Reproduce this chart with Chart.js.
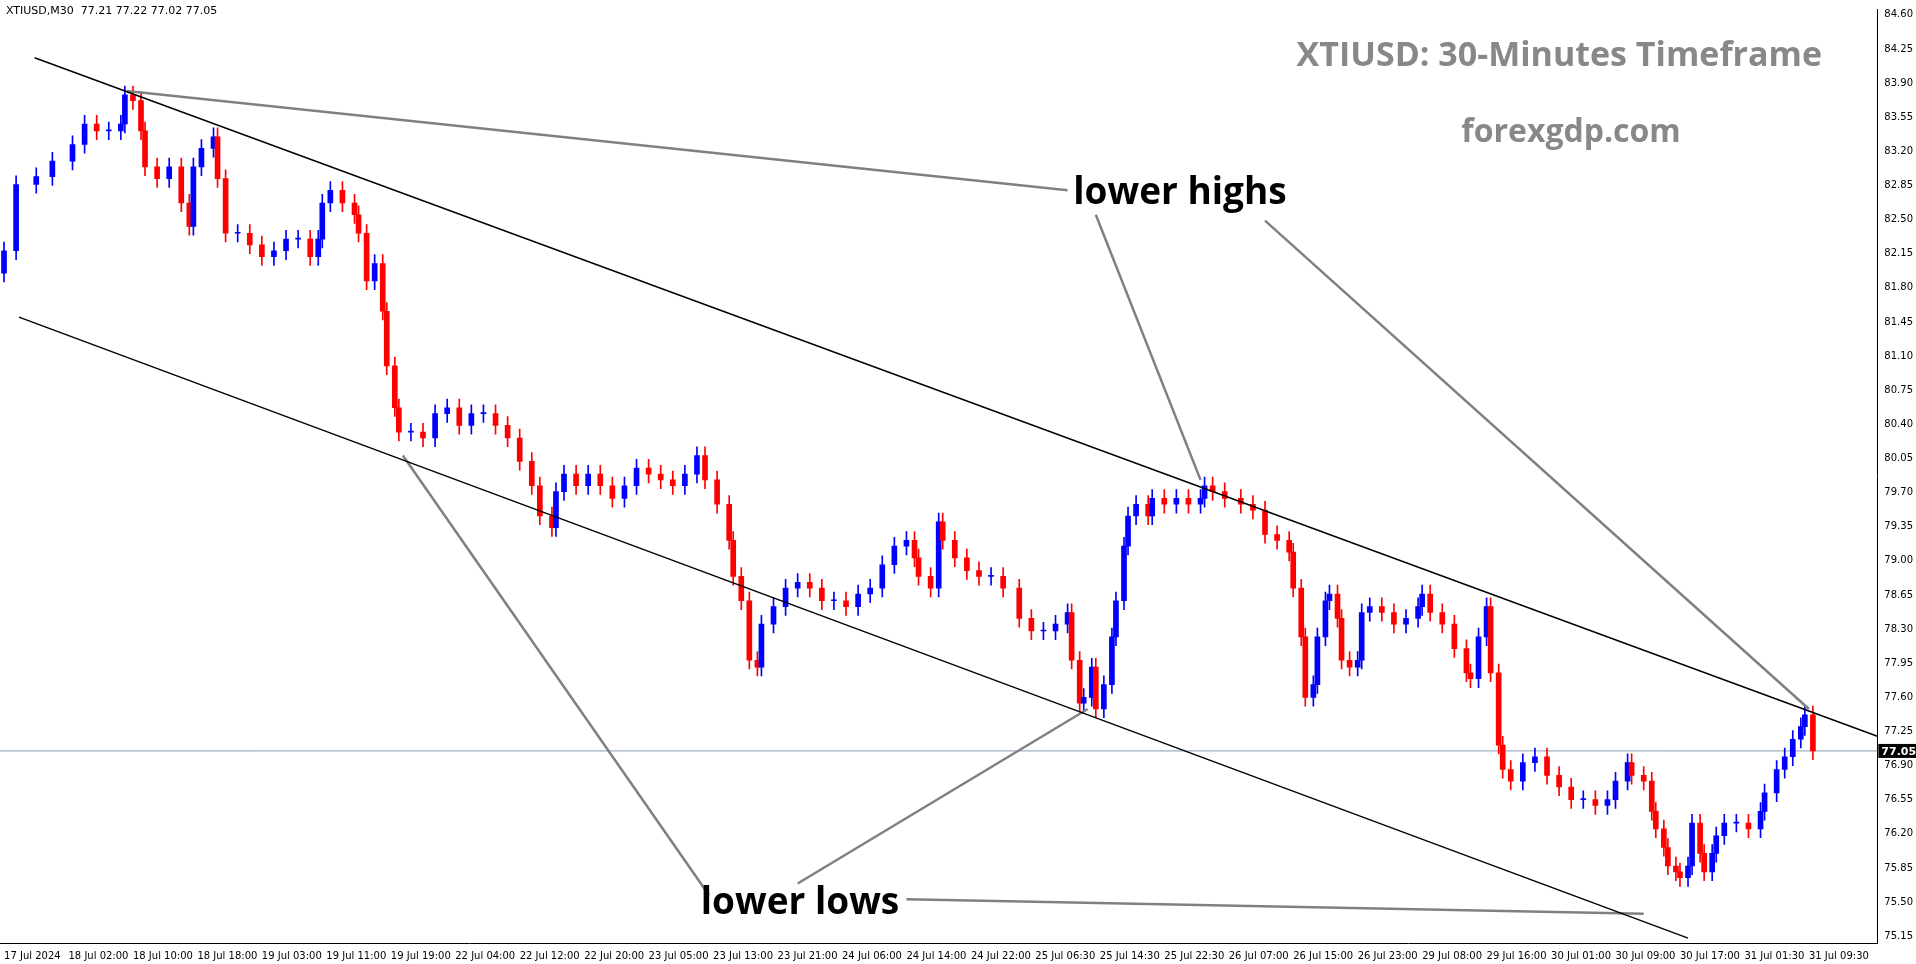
<!DOCTYPE html>
<html><head><meta charset="utf-8">
<script src="https://cdn.jsdelivr.net/npm/chart.js@4/dist/chart.umd.min.js"></script>
<style>html,body{margin:0;background:#fff;}#wrap{width:1916px;height:964px;}</style>
</head><body><div id="wrap"><canvas id="c"></canvas></div>
<script>
// Données (index de barre M30, clôture)
const timeLabels = ['17 Jul 2024','18 Jul 02:00','18 Jul 10:00','18 Jul 18:00','19 Jul 03:00','19 Jul 11:00','19 Jul 19:00','22 Jul 04:00','22 Jul 12:00','22 Jul 20:00','23 Jul 05:00','23 Jul 13:00','23 Jul 21:00','24 Jul 06:00','24 Jul 14:00','24 Jul 22:00','25 Jul 06:30','25 Jul 14:30','25 Jul 22:30','26 Jul 07:00','26 Jul 15:00','26 Jul 23:00','29 Jul 08:00','29 Jul 16:00','30 Jul 01:00','30 Jul 09:00','30 Jul 17:00','31 Jul 01:30','31 Jul 09:30'];
const priceTicks = [75.15,75.50,75.85,76.20,76.55,76.90,77.25,77.60,77.95,78.30,78.65,79.00,79.35,79.70,80.05,80.40,80.75,81.10,81.45,81.80,82.15,82.50,82.85,83.20,83.55,83.90,84.25,84.60];
const barIdx = [0,3,8,12,17,20,23,26,29,30,32,34,35,38,41,44,46,47,49,52,53,55,58,61,64,67,70,73,76,78,79,81,84,87,88,90,92,94,95,97,98,101,104,107,110,113,116,119,122,125,128,131,133,136,137,139,142,145,148,151,154,157,160,163,166,169,172,174,177,180,181,183,185,187,188,191,194,197,200,203,206,209,212,215,218,221,224,226,227,230,232,233,236,239,242,245,248,252,255,258,261,264,265,267,268,270,271,273,275,276,278,279,281,284,285,288,291,294,297,298,300,303,307,310,313,316,319,320,322,323,325,326,328,329,331,332,334,336,337,339,342,345,348,351,352,354,357,360,363,364,366,368,369,371,372,374,377,380,383,386,389,392,395,398,400,403,404,407,409,410,412,413,415,416,418,419,421,422,424,425,427,430,433,436,437,440,442,444,446,447,449];
const closes = [82.18,82.86,82.94,83.10,83.27,83.48,83.41,83.41,83.48,83.78,83.72,83.41,83.04,82.92,83.04,82.67,82.43,83.04,83.23,83.35,82.92,82.36,82.36,82.24,82.12,82.18,82.30,82.30,82.12,82.30,82.67,82.80,82.67,82.55,82.36,81.87,82.05,81.56,81.00,80.57,80.32,80.32,80.26,80.51,80.57,80.39,80.51,80.51,80.39,80.26,80.02,79.77,79.46,79.34,79.71,79.89,79.77,79.89,79.77,79.64,79.77,79.95,79.89,79.83,79.77,79.89,80.08,79.83,79.58,79.21,78.84,78.59,77.98,77.91,78.35,78.53,78.72,78.78,78.72,78.59,78.59,78.53,78.66,78.72,78.96,79.15,79.21,79.03,78.84,78.72,79.40,79.21,79.03,78.90,78.84,78.84,78.72,78.41,78.28,78.28,78.35,78.47,77.98,77.54,77.60,77.91,77.48,77.73,78.22,78.59,79.15,79.46,79.58,79.46,79.64,79.58,79.64,79.58,79.64,79.77,79.71,79.64,79.58,79.52,79.27,79.21,79.09,78.72,78.22,77.60,77.73,78.22,78.59,78.66,78.41,77.98,77.91,77.98,78.47,78.53,78.47,78.35,78.41,78.53,78.66,78.47,78.35,78.10,77.85,77.79,78.22,78.53,77.85,77.11,76.86,76.74,76.93,76.99,76.80,76.68,76.55,76.55,76.49,76.55,76.74,76.93,76.80,76.74,76.43,76.25,76.06,75.87,75.81,75.75,75.87,76.31,76.00,75.81,76.00,76.18,76.31,76.31,76.25,76.43,76.62,76.86,76.99,77.17,77.30,77.42,77.05];
const firstOpen = 81.95;
const lastPrice = 77.05;
// lignes de tendance [x1,y1,x2,y2]
const channelTop = [7.6,84.16,465,77.20];
const channelBottom = [3.7,81.50,418,75.13];
const pointerLines = [[30.5,83.82,264,82.80],[271,82.55,297,79.83],[313,82.49,448,77.48],[99,80.08,175,75.57],[197,75.69,269,77.48],[224,75.53,407,75.38]];

const wicks = [], bodies = [], colors = [];
closes.forEach((c, i) => {
  const o = i === 0 ? firstOpen : closes[i - 1];
  bodies.push({x: barIdx[i], y: [o, c]});
  wicks.push({x: barIdx[i], y: [Math.min(o, c) - 0.09, Math.max(o, c) + 0.09]});
  colors.push(c >= o ? '#0000ff' : '#ff0000');
});
const seg = (s, col, w) => ({type: 'line', data: [{x: s[0], y: s[1]}, {x: s[2], y: s[3]}], borderColor: col, borderWidth: w, pointRadius: 0, order: 0});

const textPlugin = {
  id: 'texts',
  afterDraw(chart) {
    const ctx = chart.ctx, a = chart.chartArea, ys = chart.scales.y;
    ctx.save();
    ctx.fillStyle = '#000'; ctx.font = '11px "DejaVu Sans"'; ctx.textAlign = 'left'; ctx.textBaseline = 'top';
    ctx.fillText('XTIUSD,M30  77.21 77.22 77.02 77.05', 6, 6);
    ctx.fillStyle = '#888'; ctx.font = 'bold 34px "Open Sans"'; ctx.textAlign = 'right'; ctx.textBaseline = 'middle';
    ctx.fillText('XTIUSD: 30-Minutes Timeframe', 1822, 56);
    ctx.textAlign = 'center'; ctx.font = 'bold 32px "Open Sans"';
    ctx.fillText('forexgdp.com', 1571, 133);
    ctx.fillStyle = '#000'; ctx.font = 'bold 37px "Open Sans"';
    ctx.fillText('lower highs', 1180, 193);
    ctx.fillText('lower lows', 800, 903);
    const yp = ys.getPixelForValue(lastPrice);
    ctx.fillStyle = '#000'; ctx.fillRect(a.right + 1, yp - 7, 40, 14);
    ctx.fillStyle = '#fff'; ctx.font = 'bold 11px "DejaVu Sans"'; ctx.textAlign = 'left';
    ctx.fillText(lastPrice.toFixed(2), a.right + 4, yp + 1);
    ctx.restore();
  }
};

new Chart(document.getElementById('c'), {
  type: 'bar',
  data: {datasets: [
    seg(channelTop, '#000', 1.5), seg(channelBottom, '#000', 1.5),
    ...pointerLines.map(p => seg(p, '#808080', 2.5)),
    {type: 'line', data: [{x: -5, y: lastPrice}, {x: 470, y: lastPrice}], borderColor: '#8a9bb0', borderWidth: 1, pointRadius: 0, order: 3},
    {data: wicks, backgroundColor: colors, barThickness: 1, grouped: false, order: 2},
    {data: bodies, backgroundColor: colors, barThickness: 5, grouped: false, order: 1, minBarLength: 1}
  ]},
  plugins: [textPlugin],
  options: {
    responsive: true, maintainAspectRatio: false, animation: false,
    layout: {padding: {left: 0, top: 4, right: 0, bottom: 0}},
    plugins: {legend: {display: false}, tooltip: {enabled: false}},
    scales: {
      x: {type: 'linear', min: -1, max: 465, offset: false,
        afterBuildTicks: s => { s.ticks = timeLabels.map((_, i) => ({value: i * 16})); },
        ticks: {autoSkip: false, maxRotation: 0, padding: 2, color: '#000', font: {size: 10, family: 'DejaVu Sans'}, align: 'start',
          callback: (v) => timeLabels[Math.round(v / 16)]},
        grid: {display: false, drawTicks: true, tickLength: 5, tickColor: '#000'},
        border: {color: '#000', width: 1}},
      y: {position: 'right', min: 75.08, max: 84.66,
        afterBuildTicks: s => { s.ticks = priceTicks.map(v => ({value: v})); },
        ticks: {color: '#000', padding: 3, font: {size: 10, family: 'DejaVu Sans'}, callback: v => v.toFixed(2)},
        grid: {display: false, drawTicks: true, tickLength: 4, tickColor: '#000'},
        border: {color: '#000', width: 1}}
    }
  }
});
</script></body></html>
